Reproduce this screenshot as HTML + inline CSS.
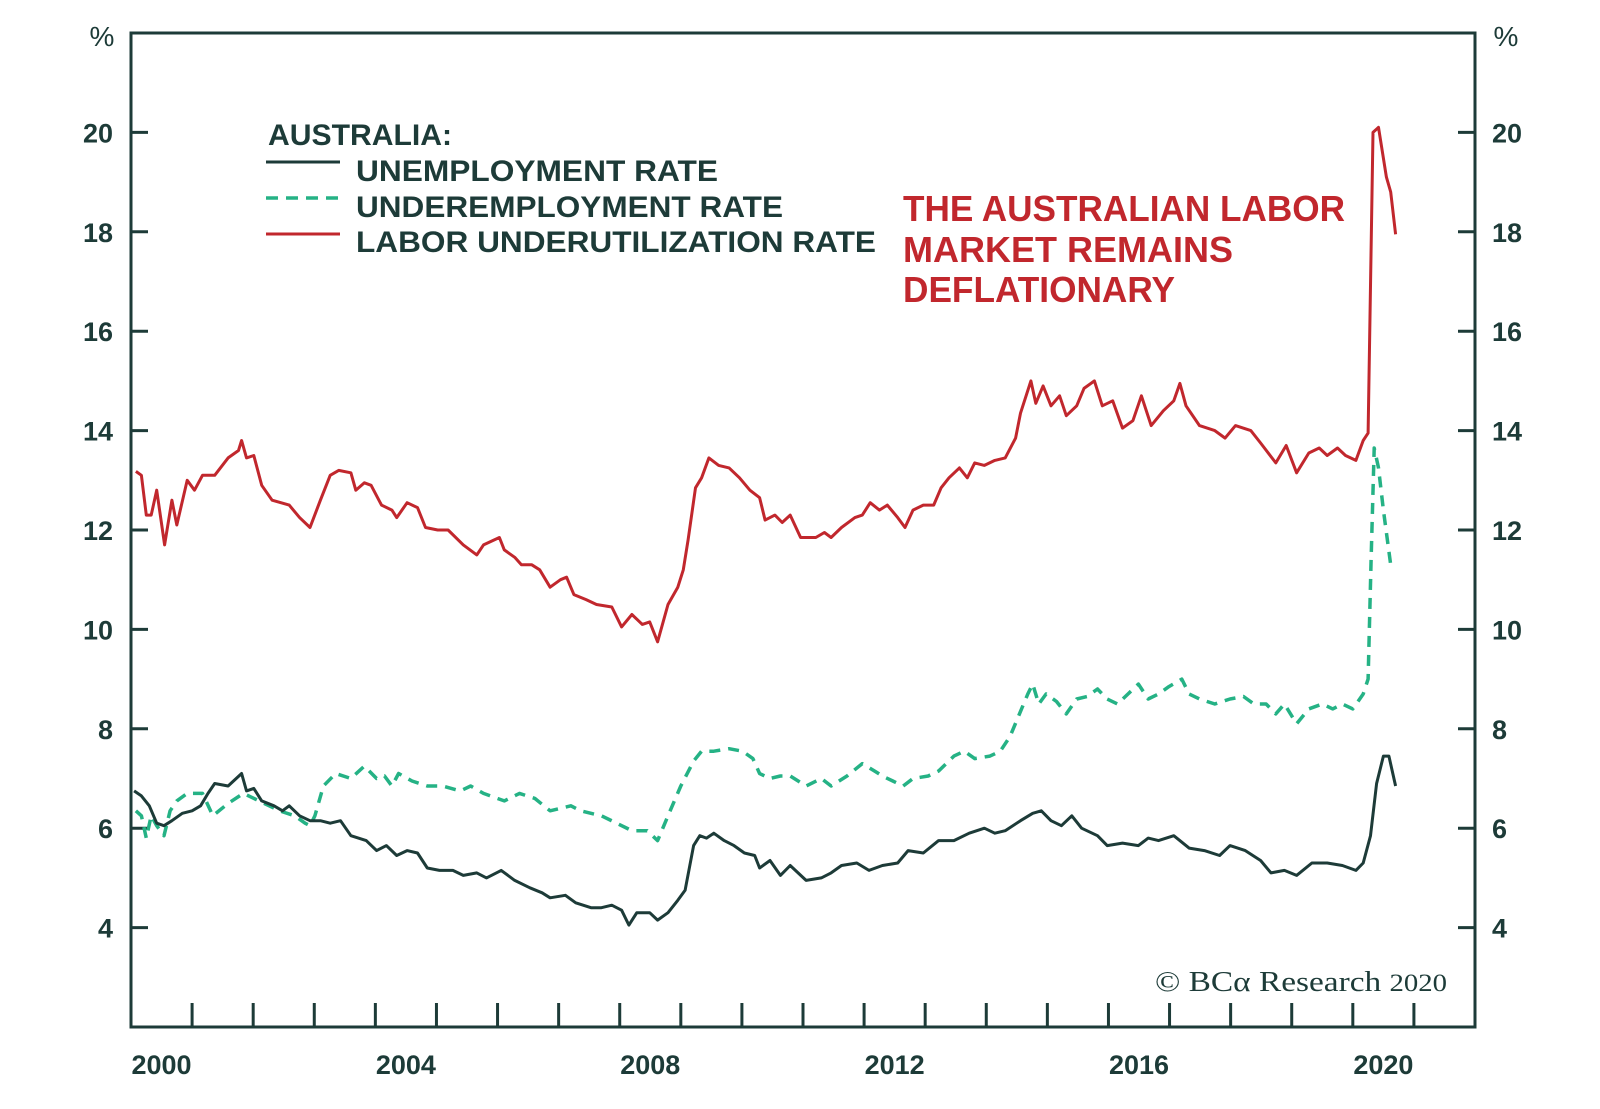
<!DOCTYPE html>
<html><head><meta charset="utf-8"><style>
html,body{margin:0;padding:0;background:#fff;}
svg{display:block;}
text{font-family:"Liberation Sans",sans-serif;}
</style></head><body>
<svg id="chart" width="1600" height="1109" viewBox="0 0 1600 1109" xmlns="http://www.w3.org/2000/svg">
<rect x="0" y="0" width="1600" height="1109" fill="#fff"/>
<g id="axes"></g>
<g id="series"></g>
<g>
<text x="268" y="145" font-size="30" font-weight="bold" fill="#1d3b38" textLength="184" lengthAdjust="spacingAndGlyphs">AUSTRALIA:</text>
<line x1="266" y1="162" x2="340" y2="162" stroke="#1d3b38" stroke-width="3"/>
<text x="356" y="181" font-size="30" font-weight="bold" fill="#1d3b38" textLength="362" lengthAdjust="spacingAndGlyphs">UNEMPLOYMENT RATE</text>
<line x1="266" y1="198" x2="340" y2="198" stroke="#25b285" stroke-width="3.5" stroke-dasharray="12,8"/>
<text x="356" y="217" font-size="30" font-weight="bold" fill="#1d3b38" textLength="427" lengthAdjust="spacingAndGlyphs">UNDEREMPLOYMENT RATE</text>
<line x1="266" y1="234" x2="340" y2="234" stroke="#c1272d" stroke-width="3"/>
<text x="356" y="252" font-size="30" font-weight="bold" fill="#1d3b38" textLength="520" lengthAdjust="spacingAndGlyphs">LABOR UNDERUTILIZATION RATE</text>
</g>
<g fill="#c1272d" font-size="36" font-weight="bold">
<text x="903" y="221" textLength="442" lengthAdjust="spacingAndGlyphs">THE AUSTRALIAN LABOR</text>
<text x="903" y="262" textLength="330" lengthAdjust="spacingAndGlyphs">MARKET REMAINS</text>
<text x="903" y="302" textLength="272" lengthAdjust="spacingAndGlyphs">DEFLATIONARY</text>
</g>
<text x="1155" y="991" style="font-family:'Liberation Serif',serif" font-size="29" fill="#1d3b38" textLength="292" lengthAdjust="spacingAndGlyphs">© BCα Research <tspan font-size="25">2020</tspan></text>
</svg>
<script>
const yTicks = [4, 6, 8, 10, 12, 14, 16, 18, 20];
const xLabelYears = [2000, 2004, 2008, 2012, 2016, 2020];
const redT = [2000.08,2000.17,2000.25,2000.33,2000.42,2000.55,2000.67,2000.75,2000.92,2001.04,2001.17,2001.37,2001.59,2001.76,2001.81,2001.89,2002.01,2002.14,2002.31,2002.59,2002.76,2002.93,2003.10,2003.26,2003.40,2003.60,2003.68,2003.82,2003.93,2004.10,2004.27,2004.35,2004.52,2004.69,2004.82,2005.02,2005.19,2005.44,2005.66,2005.77,2006.03,2006.11,2006.28,2006.39,2006.56,2006.69,2006.86,2007.03,2007.13,2007.25,2007.45,2007.62,2007.87,2008.03,2008.20,2008.37,2008.49,2008.62,2008.79,2008.95,2009.04,2009.12,2009.24,2009.34,2009.46,2009.62,2009.79,2009.96,2010.13,2010.29,2010.38,2010.54,2010.66,2010.79,2010.96,2011.21,2011.35,2011.46,2011.63,2011.85,2011.97,2012.10,2012.25,2012.38,2012.55,2012.67,2012.80,2012.97,2013.14,2013.26,2013.39,2013.56,2013.69,2013.81,2013.97,2014.14,2014.31,2014.48,2014.56,2014.73,2014.81,2014.93,2015.06,2015.20,2015.31,2015.48,2015.60,2015.77,2015.90,2016.07,2016.23,2016.40,2016.54,2016.70,2016.90,2017.07,2017.17,2017.27,2017.49,2017.74,2017.91,2018.08,2018.33,2018.49,2018.74,2018.91,2019.08,2019.28,2019.45,2019.58,2019.75,2019.88,2020.05,2020.17,2020.25,2020.33,2020.42,2020.55,2020.62,2020.70];
const redV = [13.18,13.1,12.3,12.3,12.8,11.7,12.6,12.1,13.0,12.8,13.1,13.1,13.45,13.6,13.8,13.45,13.5,12.9,12.6,12.5,12.25,12.05,12.6,13.1,13.2,13.15,12.8,12.95,12.9,12.5,12.4,12.25,12.55,12.45,12.05,12.0,12.0,11.7,11.5,11.7,11.85,11.6,11.45,11.3,11.3,11.2,10.85,11.0,11.05,10.7,10.6,10.5,10.45,10.05,10.3,10.1,10.15,9.75,10.5,10.85,11.2,11.8,12.85,13.05,13.45,13.3,13.25,13.05,12.8,12.65,12.2,12.3,12.15,12.3,11.85,11.85,11.95,11.85,12.05,12.25,12.3,12.55,12.4,12.5,12.25,12.05,12.4,12.5,12.5,12.85,13.05,13.25,13.05,13.35,13.3,13.4,13.45,13.85,14.35,15.0,14.55,14.9,14.5,14.7,14.3,14.5,14.85,15.0,14.5,14.6,14.05,14.2,14.7,14.1,14.4,14.6,14.95,14.5,14.1,14.0,13.85,14.1,14.0,13.75,13.35,13.7,13.15,13.55,13.65,13.5,13.65,13.5,13.4,13.8,13.95,20.0,20.1,19.1,18.8,17.95];
const greenT = [2000.08,2000.17,2000.25,2000.33,2000.42,2000.54,2000.64,2000.75,2000.92,2001.17,2001.34,2001.59,2001.84,2002.18,2002.43,2002.68,2002.85,2002.93,2003.01,2003.15,2003.35,2003.60,2003.82,2004.02,2004.15,2004.27,2004.38,2004.60,2004.85,2005.10,2005.39,2005.56,2005.77,2006.11,2006.36,2006.61,2006.86,2007.20,2007.36,2007.70,2007.95,2008.20,2008.45,2008.62,2008.79,2009.00,2009.21,2009.34,2009.54,2009.79,2010.01,2010.18,2010.29,2010.46,2010.63,2010.79,2011.05,2011.30,2011.46,2011.72,2011.97,2012.17,2012.30,2012.47,2012.64,2012.80,2013.05,2013.22,2013.47,2013.64,2013.81,2014.06,2014.23,2014.39,2014.56,2014.68,2014.76,2014.86,2014.98,2015.15,2015.31,2015.48,2015.65,2015.82,2015.98,2016.15,2016.32,2016.49,2016.65,2016.82,2016.99,2017.20,2017.32,2017.49,2017.74,2017.99,2018.21,2018.38,2018.58,2018.74,2018.88,2019.08,2019.28,2019.50,2019.67,2019.83,2020.00,2020.17,2020.25,2020.30,2020.35,2020.42,2020.50,2020.62];
const greenV = [6.35,6.25,5.8,6.25,6.05,5.85,6.35,6.55,6.7,6.7,6.25,6.5,6.7,6.5,6.35,6.25,6.1,6.05,6.25,6.85,7.1,7.0,7.25,7.0,7.05,6.85,7.1,6.95,6.85,6.85,6.75,6.85,6.7,6.55,6.7,6.6,6.35,6.45,6.35,6.25,6.1,5.95,5.95,5.75,6.25,6.85,7.35,7.55,7.55,7.6,7.55,7.4,7.1,7.0,7.05,7.05,6.85,7.0,6.85,7.05,7.3,7.15,7.05,6.95,6.85,7.0,7.05,7.15,7.45,7.55,7.4,7.45,7.55,7.85,8.35,8.7,8.9,8.5,8.7,8.55,8.3,8.6,8.65,8.8,8.6,8.5,8.7,8.9,8.6,8.7,8.85,9.0,8.7,8.6,8.5,8.6,8.65,8.5,8.5,8.3,8.5,8.1,8.4,8.5,8.4,8.5,8.4,8.7,9.0,11.4,13.65,13.25,12.4,11.3];
const darkT = [2000.05,2000.17,2000.30,2000.42,2000.54,2000.67,2000.84,2001.00,2001.14,2001.26,2001.37,2001.59,2001.81,2001.89,2002.01,2002.14,2002.34,2002.48,2002.59,2002.76,2002.93,2003.10,2003.26,2003.43,2003.60,2003.85,2004.02,2004.18,2004.35,2004.52,2004.69,2004.85,2005.05,2005.27,2005.44,2005.66,2005.82,2006.06,2006.28,2006.53,2006.73,2006.86,2007.11,2007.28,2007.53,2007.70,2007.87,2008.03,2008.15,2008.28,2008.49,2008.62,2008.79,2008.95,2009.07,2009.21,2009.31,2009.42,2009.54,2009.71,2009.87,2010.04,2010.21,2010.29,2010.46,2010.63,2010.79,2011.05,2011.30,2011.46,2011.63,2011.88,2012.08,2012.30,2012.55,2012.72,2012.97,2013.22,2013.47,2013.72,2013.97,2014.14,2014.31,2014.56,2014.76,2014.90,2015.06,2015.23,2015.40,2015.56,2015.82,2015.98,2016.23,2016.49,2016.65,2016.82,2017.07,2017.32,2017.57,2017.82,2017.99,2018.24,2018.49,2018.66,2018.88,2019.08,2019.33,2019.58,2019.83,2020.05,2020.17,2020.29,2020.39,2020.50,2020.59,2020.70];
const darkV = [6.75,6.65,6.45,6.1,6.05,6.15,6.3,6.35,6.45,6.7,6.9,6.85,7.1,6.75,6.8,6.55,6.45,6.35,6.45,6.25,6.15,6.15,6.1,6.15,5.85,5.75,5.55,5.65,5.45,5.55,5.5,5.2,5.15,5.15,5.05,5.1,5.0,5.15,4.95,4.8,4.7,4.6,4.65,4.5,4.4,4.4,4.45,4.35,4.05,4.3,4.3,4.15,4.3,4.55,4.75,5.65,5.85,5.8,5.9,5.75,5.65,5.5,5.45,5.2,5.35,5.05,5.25,4.95,5.0,5.1,5.25,5.3,5.15,5.25,5.3,5.55,5.5,5.75,5.75,5.9,6.0,5.9,5.95,6.15,6.3,6.35,6.15,6.05,6.25,6.0,5.85,5.65,5.7,5.65,5.8,5.75,5.85,5.6,5.55,5.45,5.65,5.55,5.35,5.1,5.15,5.05,5.3,5.3,5.25,5.15,5.3,5.85,6.9,7.45,7.45,6.85];

const NS = 'http://www.w3.org/2000/svg';
const L = 131, R = 1475, T = 33, B = 1027;
const X0 = 2000, X1 = 2022, Y0 = 2, Y1 = 22;
const INK = '#1d3b38';
function xs(t){ return L + (t - X0) / (X1 - X0) * (R - L); }
function ys(v){ return B - (v - Y0) / (Y1 - Y0) * (B - T); }
function mk(tag, attrs, parent){
  const el = document.createElementNS(NS, tag);
  for (const k in attrs) el.setAttribute(k, attrs[k]);
  parent.appendChild(el);
  return el;
}
const axes = document.getElementById('axes');
const series = document.getElementById('series');

const frame = mk('rect', {x:L, y:T, width:R-L, height:B-T, fill:'none', stroke:INK, 'stroke-width':3}, axes);



yTicks.forEach(v => {
  const y = ys(v);
  const tl = mk('line', {x1:L, y1:y, x2:L+17, y2:y, stroke:INK, 'stroke-width':3}, axes);
  
  
  const tr = mk('line', {x1:R-17, y1:y, x2:R, y2:y, stroke:INK, 'stroke-width':3}, axes);
  
  
  const lt = mk('text', {x:113, y:y+10, 'text-anchor':'end', 'font-size':27, 'font-weight':'bold', fill:INK}, axes);
  lt.textContent = v;
  
  
  const rt = mk('text', {x:1492, y:y+10, 'text-anchor':'start', 'font-size':27, 'font-weight':'bold', fill:INK}, axes);
  rt.textContent = v;
  
  
});
const pl = mk('text', {x:102, y:46, 'text-anchor':'middle', 'font-size':28, fill:INK}, axes);
pl.textContent = '%';


const pr = mk('text', {x:1506, y:46, 'text-anchor':'middle', 'font-size':28, fill:INK}, axes);
pr.textContent = '%';



for (let yr = X0 + 1; yr < X1; yr++) {
  const x = xs(yr);
  const tk = mk('line', {x1:x, y1:B, x2:x, y2:B-24, stroke:INK, 'stroke-width':3}, axes);
  
  
}
xLabelYears.forEach(yr => {
  const t = mk('text', {x:xs(yr + 0.5), y:1074, 'text-anchor':'middle', 'font-size':27, 'font-weight':'bold', fill:INK}, axes);
  t.textContent = yr;
  
  
});

function line(ts, vs, color, dash, name){
  const d = ts.map((t, i) => (i ? 'L' : 'M') + xs(t).toFixed(1) + ',' + ys(vs[i]).toFixed(1)).join(' ');
  const p = mk('path', {d:d, fill:'none', stroke:color, 'stroke-width':dash ? 3.5 : 3, 'stroke-linejoin':'round'}, series);
  if (dash) p.setAttribute('stroke-dasharray', dash);
  
  
}
line(greenT, greenV, '#25b285', '11,8', 'underemployment-rate-line');
line(darkT, darkV, INK, null, 'unemployment-rate-line');
line(redT, redV, '#c1272d', null, 'labor-underutilization-rate-line');
</script>
</body></html>
